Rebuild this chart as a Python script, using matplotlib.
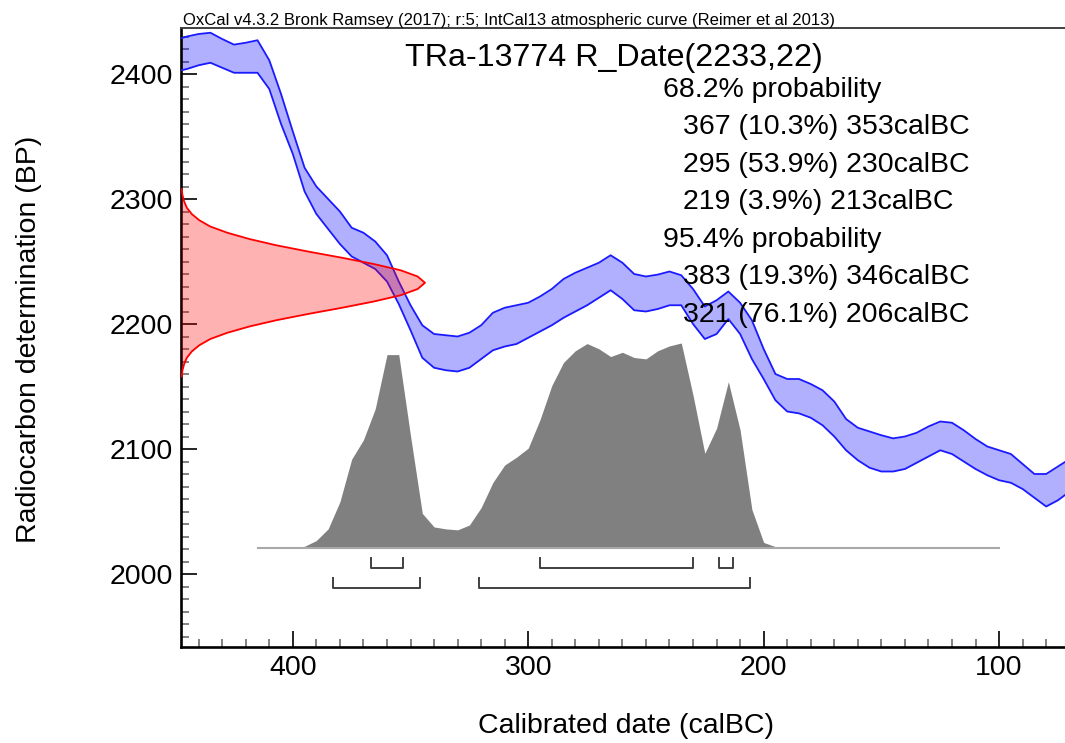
import matplotlib
matplotlib.use("Agg")
import matplotlib.pyplot as plt
from matplotlib.ticker import FixedLocator, MultipleLocator
import numpy as np

plt.rcParams['font.family'] = ['Liberation Sans', 'DejaVu Sans']

# ---------------- data ----------------
caption = "OxCal v4.3.2 Bronk Ramsey (2017); r:5; IntCal13 atmospheric curve (Reimer et al 2013)"
sample_name = "TRa-13774"
r_date_mean = 2233
r_date_sd = 22

# IntCal13 band (calBC, BP)
curve_years = [450, 445, 440, 435, 430, 425, 420, 415, 410, 405, 400, 395, 390, 385, 380,
               375, 370, 365, 360, 355, 350, 345, 340, 335, 330, 325, 320, 315, 310, 305,
               300, 295, 290, 285, 280, 275, 270, 265, 260, 255, 250, 245, 240, 235, 230,
               225, 220, 215, 210, 205, 200, 195, 190, 185, 180, 175, 170, 165, 160, 155,
               150, 145, 140, 135, 130, 125, 120, 115, 110, 105, 100, 95, 90, 85, 80, 75, 70]
curve_upper = [2427, 2430, 2432, 2433, 2428, 2423.5, 2425, 2427, 2411, 2384, 2354, 2325, 2310, 2300, 2290,
               2277, 2273, 2266, 2255, 2234, 2215, 2199, 2192, 2191, 2190, 2193, 2199, 2209, 2213, 2215,
               2217, 2222, 2228, 2236, 2241, 2245, 2249, 2255, 2249, 2240, 2238, 2239.5, 2242, 2239, 2228,
               2214, 2219, 2226, 2217, 2203, 2180, 2160, 2156, 2156, 2152, 2147, 2138, 2124, 2117, 2114,
               2111, 2108.5, 2110, 2113, 2118, 2122, 2121, 2115, 2108, 2102, 2099, 2096, 2088, 2080, 2080, 2086, 2092]
curve_lower = [2402, 2404, 2407, 2409, 2405, 2401, 2401, 2401, 2388, 2360, 2336, 2306, 2288, 2276, 2264,
               2254, 2249, 2244, 2234, 2216, 2195, 2173, 2165, 2163, 2162, 2165, 2172, 2179, 2182, 2184,
               2189, 2194, 2199, 2205, 2210, 2215, 2221, 2227, 2220, 2211, 2210, 2212, 2215, 2215, 2200,
               2188, 2192, 2204, 2192, 2172, 2156, 2139, 2130, 2128.5, 2125, 2119, 2110, 2099, 2091, 2085,
               2082, 2082, 2084, 2089, 2094, 2099, 2096, 2090, 2084, 2079, 2075, 2073, 2068, 2061, 2054, 2059, 2066]

# radiocarbon measurement distribution (BP, relative density)
rdate_bp = [2158, 2163, 2168, 2173, 2178, 2183, 2188, 2193, 2198, 2203, 2208, 2213, 2218, 2223, 2228,
            2233, 2238, 2243, 2248, 2253, 2258, 2263, 2268, 2273, 2278, 2283, 2288, 2293, 2298, 2303, 2308]
rdate_density = [0.003, 0.006, 0.013, 0.024, 0.044, 0.075, 0.12, 0.19, 0.28, 0.39, 0.52, 0.66, 0.79, 0.90, 0.97,
                 1.0, 0.97, 0.90, 0.79, 0.66, 0.52, 0.39, 0.28, 0.19, 0.12, 0.075, 0.044, 0.024, 0.013, 0.006, 0.003]

# calibrated probability (calBC, relative probability)
post_years = [415, 410, 405, 400, 395, 390, 385, 380, 375, 370, 365, 360, 355, 350, 345, 340,
              335, 330, 325, 320, 315, 310, 305, 300, 295, 290, 285, 280, 275, 270, 265, 260,
              255, 250, 245, 240, 235, 230, 225, 220, 215, 210, 205, 200, 195, 190, 185, 180,
              175, 170, 165, 160, 155, 150, 145, 140, 135, 130, 125, 120, 115, 110, 105, 100]
post_prob = [0, 0, 0, 0.002, 0.01, 0.04, 0.10, 0.24, 0.46, 0.56, 0.72, 1.0, 1.0, 0.58, 0.18, 0.11,
             0.10, 0.095, 0.12, 0.21, 0.34, 0.43, 0.47, 0.517, 0.664, 0.84, 0.96, 1.02, 1.057, 1.03, 0.99, 1.012,
             0.985, 0.978, 1.02, 1.045, 1.06, 0.79, 0.49, 0.62, 0.86, 0.61, 0.20, 0.03, 0.008, 0.003, 0, 0,
             0, 0, 0, 0, 0, 0, 0, 0, 0, 0, 0, 0, 0, 0, 0, 0]

range68_start = [367, 295, 219]
range68_end = [353, 230, 213]
range68_pct = [10.3, 53.9, 3.9]
range95_start = [383, 321]
range95_end = [346, 206]
range95_pct = [19.3, 76.1]

x_ticks = [400, 300, 200, 100]
y_ticks = [2000, 2100, 2200, 2300, 2400]

# ---------------- figure ----------------
W, H = 1065, 743
fig = plt.figure(figsize=(W / 100, H / 100), dpi=100)
ax = fig.add_axes([181 / W, 1 - 647 / H, 884 / W, 619 / H])
ax.set_xlim(447.5, 72)
ax.set_ylim(1941.6, 2436.8)

def fx(px):
    return px / W

def fy(py):
    return 1 - py / H

# calibration curve band
ax.fill_between(curve_years, curve_lower, curve_upper, color=(0, 0, 1, 0.31), lw=0, zorder=2)
ax.plot(curve_years, curve_upper, color='#1a1aff', lw=1.3, zorder=3)
ax.plot(curve_years, curve_lower, color='#1a1aff', lw=1.3, zorder=3)

# radiocarbon date distribution on the y axis
rd_scale = 0.276
rd_x = np.array(rdate_density) * rd_scale
tr = ax.get_yaxis_transform()
ax.fill_betweenx(rdate_bp, 0, rd_x, transform=tr, color=(1, 0, 0, 0.3), lw=0, zorder=4)
ax.plot(rd_x, rdate_bp, transform=tr, color='#ff0000', lw=1.3, zorder=5)

# calibrated distribution
base = 2020.6
height = 164.2
pp = np.array(post_prob)
ax.fill_between(post_years, base, base + pp / pp.max() * height, color='#808080', lw=0, zorder=2)
ax.plot([post_years[0], post_years[-1]], [base, base], color='#a8a8a8', lw=1.5, zorder=2)

# range brackets
def brackets(starts, ends, y, top):
    for s, e in zip(starts, ends):
        ax.plot([s, s, e, e], [top, y, y, top], color='#404040', lw=1.4, zorder=3)

brackets(range68_start, range68_end, 2004.6, 2012.6)
brackets(range95_start, range95_end, 1988.6, 1996.6)

# axes styling
ax.xaxis.set_major_locator(FixedLocator(x_ticks))
ax.xaxis.set_minor_locator(MultipleLocator(10))
ax.yaxis.set_major_locator(FixedLocator(y_ticks))
ax.yaxis.set_minor_locator(MultipleLocator(10))
ax.tick_params(which='major', direction='in', length=11.5, width=1.2, labelsize=20.5, pad=5.8, color='black')
ax.tick_params(which='minor', direction='in', length=5.8, width=1.1, color='#606060')
ax.tick_params(top=False, right=False, which='both')
ax.spines['right'].set_visible(False)
ax.spines['left'].set_linewidth(1.9)
ax.spines['bottom'].set_linewidth(1.9)
ax.spines['top'].set_linewidth(1.4)
ax.spines['top'].set_color('#404040')

# labels
fig.text(fx(626), fy(733), "Calibrated date (calBC)", fontsize=20.5, ha='center', va='baseline')
fig.text(fx(29), fy(339), "Radiocarbon determination (BP)", fontsize=20.5, ha='center', va='center', rotation=90)
fig.text(fx(183), fy(24.5), caption, fontsize=12, ha='left', va='baseline')

fig.text(fx(405), fy(66), f"{sample_name} R_Date({r_date_mean},{r_date_sd})", fontsize=23.2, ha='left', va='baseline')

lines = [("68.2% probability", 663)]
for s, e, p in zip(range68_start, range68_end, range68_pct):
    lines.append((f"{s} ({p:.1f}%) {e}calBC", 683))
lines.append(("95.4% probability", 663))
for s, e, p in zip(range95_start, range95_end, range95_pct):
    lines.append((f"{s} ({p:.1f}%) {e}calBC", 683))
for i, (t, x0) in enumerate(lines):
    fig.text(fx(x0), fy(96.8 + 37.5 * i), t, fontsize=20.5, ha='left', va='baseline', zorder=6)

fig.savefig("out.png", dpi=100)
